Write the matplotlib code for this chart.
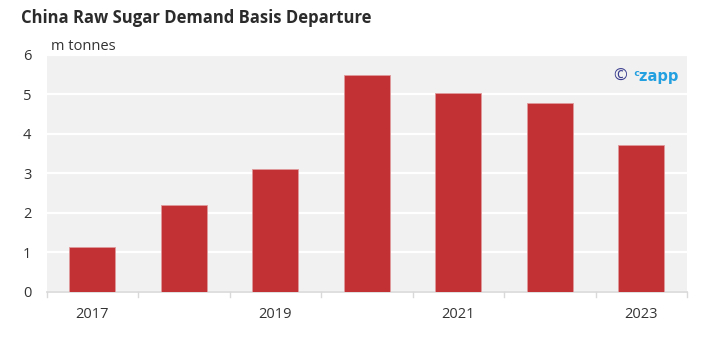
import matplotlib
matplotlib.use("Agg")
import matplotlib.pyplot as plt

years = ["2017", "2018", "2019", "2020", "2021", "2022", "2023"]
values = [1.14, 2.19, 3.11, 5.48, 5.03, 4.78, 3.71]
tick_labels = ["2017", "", "2019", "", "2021", "", "2023"]

plt.rcParams['font.family'] = ['Open Sans', 'DejaVu Sans']

fig = plt.figure(figsize=(7.1, 3.4), dpi=100)
W, H = 710, 340
left, right, top, bottom = 46.5, 687, 54.5, 291.7
ax = fig.add_axes([left / W, 1 - bottom / H, (right - left) / W, (bottom - top) / H])
ax.set_facecolor("#f1f1f1")

x = list(range(len(years)))
ax.bar(x, values, width=0.5, color="#c23234", edgecolor="#e09a9b", linewidth=0.6, zorder=3)

ax.set_xlim(-0.5, len(years) - 0.5)
ax.set_ylim(0, 6)
ax.set_yticks(range(0, 7))
ax.set_yticklabels([str(v) for v in range(0, 7)], fontsize=10.5, color="#333333")
ax.grid(axis="y", color="white", linewidth=1.6, zorder=1)
ax.set_xticks(x)
ax.set_xticklabels(tick_labels, fontsize=10.5, color="#333333")
ax.tick_params(axis="x", length=0, pad=11)
ax.tick_params(axis="y", length=0, pad=11)
# boundary ticks
for b in [i - 0.5 for i in range(len(years) + 1)]:
    ax.plot([b, b], [0, -0.13], color="#d9d9d9", lw=1, clip_on=False, zorder=4)

for s in ["top", "right", "left"]:
    ax.spines[s].set_visible(False)
ax.spines["bottom"].set_color("#d9d9d9")
ax.spines["bottom"].set_linewidth(1.2)

fig.text(21 / W, 1 - 18 / H, "China Raw Sugar Demand Basis Departure", fontsize=12,
         fontweight="bold", color="#2b2b2b", va="center", ha="left")
fig.text(51 / W, 1 - 46 / H, "m tonnes", fontsize=10.5, color="#333333", va="center", ha="left")
fig.text(613 / W, 1 - 77 / H, "©", fontsize=12, color="#3c3f8f", va="center", ha="left")
fig.text(633 / W, 1 - 77 / H, "ᶜzapp", fontsize=10.5, fontweight="bold", color="#23a0e0",
         va="center", ha="left", family=['DejaVu Sans'])

fig.savefig("out.png", dpi=100)
